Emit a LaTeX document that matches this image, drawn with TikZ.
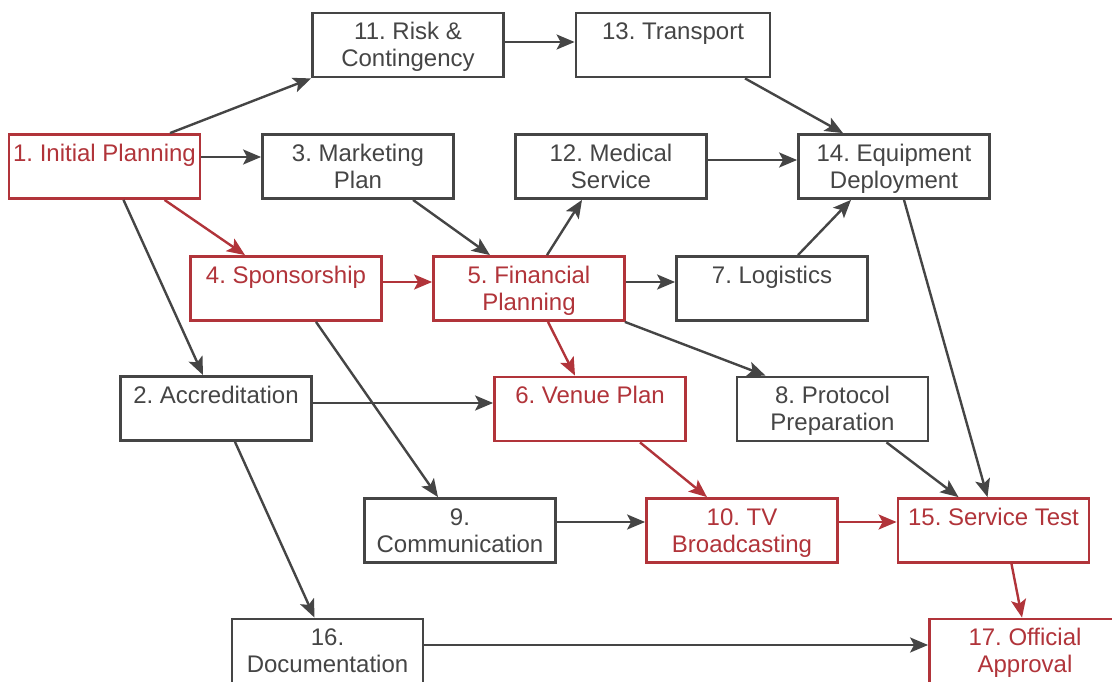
\documentclass[tikz,border=0pt]{standalone}
\usepackage{fontspec}
\setmainfont{Liberation Sans}
\usetikzlibrary{arrows.meta}
\definecolor{dk}{HTML}{454545}
\definecolor{rd}{HTML}{B1343A}
\frenchspacing
\tikzset{
  box/.style={draw=dk, line width=2.8pt, minimum width=191pt, minimum height=64pt, inner sep=0pt, fill=white},
  rbox/.style={box, draw=rd},
  lbl/.style={anchor=base, align=center, inner sep=0pt, text=dk, font=\fontsize{24}{27}\selectfont\frenchspacing},
  rlbl/.style={lbl, text=rd},
  arr/.style={draw=dk, line width=2.4pt, -{Stealth[length=18pt,width=15pt,inset=4pt]}},
  rarr/.style={arr, draw=rd, fill=rd},
}
\begin{document}
\begin{tikzpicture}[x=1pt,y=-1pt]
\useasboundingbox (0,0) rectangle (1112,682);
% boxes
\node[box]  (n11) at (408,45) {};
\node[box, minimum width=194pt]  (n13) at (673,45) {};
\node[rbox] (n1)  at (104.5,166.5) {};
\node[box]  (n3)  at (358,166.5) {};
\node[box]  (n12) at (611,166.5) {};
\node[box]  (n14) at (894,166.5) {};
\node[rbox] (n4)  at (286,288.5) {};
\node[rbox] (n5)  at (529,288.5) {};
\node[box]  (n7)  at (772,288.5) {};
\node[box]  (n2)  at (216,408.5) {};
\node[rbox] (n6)  at (590,409) {};
\node[box]  (n8)  at (832.5,409) {};
\node[box]  (n9)  at (460,530.5) {};
\node[rbox] (n10) at (742,530.5) {};
\node[rbox] (n15) at (993.5,530.5) {};
\node[box]  (n16) at (327.5,651) {};
\node[rbox] (n17) at (1025,651) {};
% labels (anchor=base is the baseline of the last line)
\node[lbl]  (t11) at ([yshift=-55pt]n11.north) {11. Risk \&\\Contingency};
\node[lbl]  (t13) at ([yshift=-28pt]n13.north) {13. Transport};
\node[rlbl] (t1)  at ([yshift=-28pt]n1.north)  {1. Initial Planning};
\node[lbl]  (t3)  at ([yshift=-55pt]n3.north)  {3. Marketing\\Plan};
\node[lbl]  (t12) at ([yshift=-55pt]n12.north) {12. Medical\\Service};
\node[lbl]  (t14) at ([yshift=-55pt]n14.north) {14. Equipment\\Deployment};
\node[rlbl] (t4)  at ([yshift=-28pt]n4.north)  {4. Sponsorship};
\node[rlbl] (t5)  at ([yshift=-55pt]n5.north)  {5. Financial\\Planning};
\node[lbl]  (t7)  at ([yshift=-28pt]n7.north)  {7. Logistics};
\node[lbl]  (t2)  at ([yshift=-28pt]n2.north)  {2. Accreditation};
\node[rlbl] (t6)  at ([yshift=-28pt]n6.north)  {6. Venue Plan};
\node[lbl]  (t8)  at ([yshift=-55pt]n8.north)  {8. Protocol\\Preparation};
\node[lbl]  (t9)  at ([yshift=-55pt]n9.north)  {9.\\Communication};
\node[rlbl] (t10) at ([yshift=-55pt]n10.north) {10. TV\\Broadcasting};
\node[rlbl] (t15) at ([yshift=-28pt]n15.north) {15. Service Test};
\node[lbl]  (t16) at ([yshift=-55pt]n16.north) {16.\\Documentation};
\node[rlbl] (t17) at ([yshift=-55pt]n17.north) {17. Official\\Approval};
% connectors
\draw[arr]  ([xshift=65.5pt]n1.north) -- (n11.south west);
\draw[arr]  ([yshift=9.5pt]n1.east) -- ([yshift=9.5pt]n3.west);
\draw[rarr] ([xshift=60pt]n1.south) -- ([xshift=-41pt]n4.north);
\draw[arr]  ([xshift=19pt]n1.south) -- ([xshift=-13pt]n2.north);
\draw[arr]  ([yshift=3pt]n11.east) -- ([yshift=3pt]n13.west);
\draw[arr]  ([xshift=72pt]n13.south) -- ([xshift=-51pt]n14.north);
\draw[arr]  ([xshift=55pt]n3.south) -- ([xshift=-39pt]n5.north);
\draw[arr]  ([yshift=6.5pt]n12.east) -- ([yshift=6.5pt]n14.west);
\draw[arr]  ([xshift=18pt]n5.north) -- ([xshift=-29pt]n12.south);
\draw[arr]  ([xshift=26pt]n7.north) -- ([xshift=-43pt]n14.south);
\draw[rarr] ([yshift=6.5pt]n4.east) -- ([yshift=6.5pt]n5.west);
\draw[arr]  ([yshift=6.5pt]n5.east) -- ([yshift=6.5pt]n7.west);
\draw[rarr] ([xshift=19pt]n5.south) -- ([xshift=-15pt]n6.north);
\draw[arr]  ([xshift=-1pt]n5.south east) -- ([xshift=-67pt]n8.north);
\draw[arr]  ([xshift=10pt]n14.south) -- ([xshift=-6pt]n15.north);
\draw[arr]  ([xshift=54pt]n8.south) -- ([xshift=-35pt]n15.north);
\draw[arr]  ([xshift=30pt]n4.south) -- ([xshift=-22pt]n9.north);
\draw[arr]  ([yshift=5.5pt]n2.east) -- ([yshift=6pt]n6.west);
\draw[arr]  ([xshift=19pt]n2.south) -- ([xshift=-13pt]n16.north);
\draw[rarr] ([xshift=50pt]n6.south) -- ([xshift=-35pt]n10.north);
\draw[arr]  ([yshift=8.5pt]n9.east) -- ([yshift=8.5pt]n10.west);
\draw[rarr] ([yshift=8.5pt]n10.east) -- ([yshift=8.5pt]n15.west);
\draw[rarr] ([xshift=18pt]n15.south) -- ([xshift=-3pt]n17.north);
\draw[arr]  ([yshift=6pt]n16.east) -- ([yshift=6pt]n17.west);
\end{tikzpicture}
\end{document}
